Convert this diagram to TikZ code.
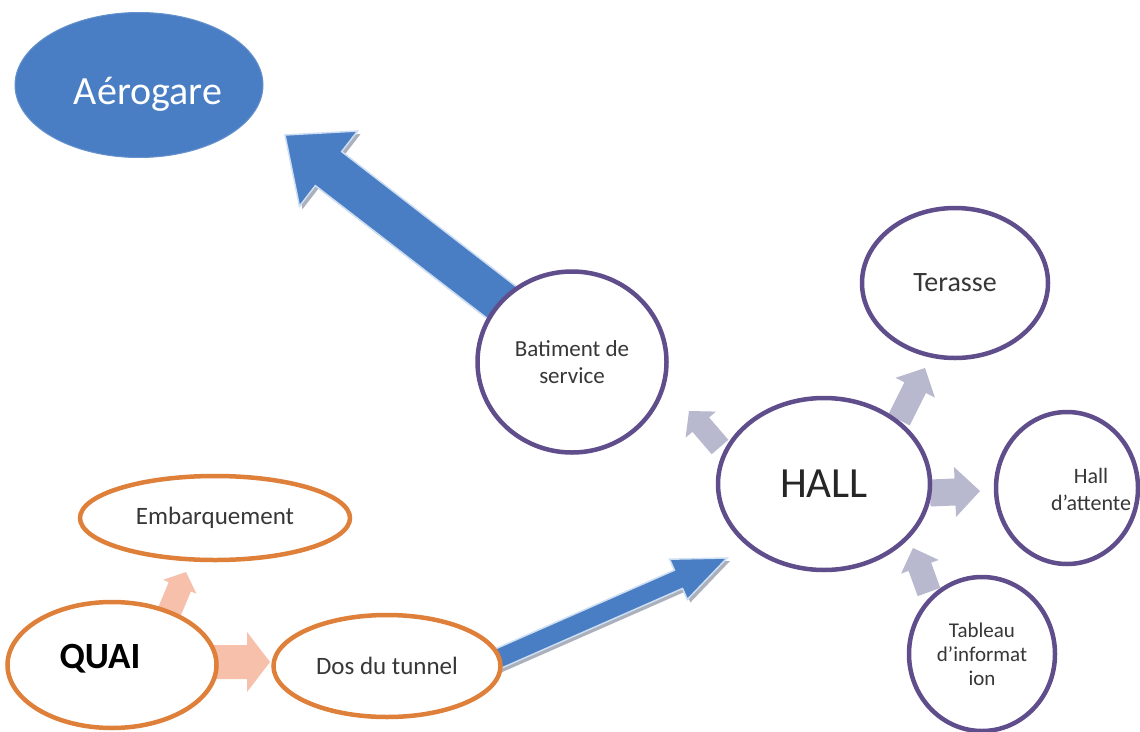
\documentclass[tikz,border=0pt]{standalone}
\usepackage{fontspec}
\setmainfont{Carlito}
\usetikzlibrary{shapes.geometric,calc}
\definecolor{abl}{RGB}{74,126,196}
\definecolor{pur}{RGB}{96,78,140}
\definecolor{org}{RGB}{222,128,58}
\definecolor{gra}{RGB}{184,184,206}
\definecolor{pch}{RGB}{246,192,170}
\definecolor{txt}{RGB}{55,55,55}
\definecolor{shd}{RGB}{170,176,188}
\definecolor{edg}{RGB}{205,222,242}
% block arrow: from, to, shaft half width, head half width, head length, style
\newcommand\blockarr[6]{%
  \coordinate (ba-h) at ($(#2)!#5!(#1)$);
  \fill[#6] ($(#1)!#3!90:(#2)$) -- ($(ba-h)!#3!90:(#2)$) -- ($(ba-h)!#4!90:(#2)$)
    -- (#2) -- ($(ba-h)!#4!-90:(#2)$) -- ($(ba-h)!#3!-90:(#2)$) -- ($(#1)!#3!-90:(#2)$) -- cycle;
}
\tikzset{
  pc/.style={ellipse, draw=pur, line width=4.5pt, fill=white, inner sep=0pt, text=txt, align=center},
  oc/.style={ellipse, draw=org, line width=4.5pt, fill=white, inner sep=0pt, text=txt, align=center},
  blueshadow/.style={fill=shd, transform canvas={shift={(3pt,-3pt)}}},
  bluearrow/.style={fill=abl, draw=edg, line width=1.5pt},
  grayarrow/.style={fill=gra},
  peacharrow/.style={fill=pch},
}
\begin{document}
\begin{tikzpicture}[x=1pt,y=-1pt]
\useasboundingbox (0,0) rectangle (1140,731);
\fill[white] (0,0) rectangle (1140,731);

% arrow end points
\coordinate (b1s) at (505,305);
\coordinate (b1e) at (285,135);
\coordinate (b2s) at (495,660);
\coordinate (b2e) at (727,558);
\coordinate (g1s) at (720,447);
\coordinate (g1e) at (689,411);
\coordinate (g2s) at (899,420);
\coordinate (g2e) at (925,368);
\coordinate (g3s) at (930,493);
\coordinate (g3e) at (980,491);
\coordinate (g4s) at (929,592);
\coordinate (g4e) at (913,548);
\coordinate (p1s) at (210,662);
\coordinate (p1e) at (270,662);
\coordinate (p2s) at (168,615);
\coordinate (p2e) at (186,572);

% big blue arrows
\blockarr{b1s}{b1e}{21.5pt}{47.5pt}{55pt}{blueshadow}
\blockarr{b1s}{b1e}{21.5pt}{47.5pt}{55pt}{bluearrow}
\blockarr{b2s}{b2e}{10pt}{22pt}{53pt}{blueshadow}
\blockarr{b2s}{b2e}{10pt}{22pt}{53pt}{bluearrow}

% small gray arrows
\blockarr{g1s}{g1e}{11pt}{20pt}{18pt}{grayarrow}
\blockarr{g2s}{g2e}{12pt}{22pt}{22pt}{grayarrow}
\blockarr{g3s}{g3e}{13.5pt}{25pt}{25pt}{grayarrow}
\blockarr{g4s}{g4e}{12pt}{20pt}{20pt}{grayarrow}

% peach arrows
\blockarr{p1s}{p1e}{17pt}{30pt}{23pt}{peacharrow}
\blockarr{p2s}{p2e}{12pt}{18pt}{16pt}{peacharrow}

% nodes
\node[ellipse, fill=abl, draw=abl!85!white, line width=1pt, minimum width=248pt, minimum height=145pt, inner sep=0pt] (aero) at (139,85) {};
\node[text=white, font=\fontsize{40}{46}\selectfont, inner sep=0pt] (aerot) at (148,94) {Aérogare};

\node[pc, minimum width=189pt, minimum height=181pt, font=\fontsize{23}{27}\selectfont] (bat) at (572,362) {Batiment de\\service};
\node[pc, minimum width=212pt, minimum height=172pt, font=\fontsize{43}{50}\selectfont, text=black!85] (hall) at (824,484) {HALL};
\node[pc, minimum width=186pt, minimum height=150pt, font=\fontsize{28}{32}\selectfont] (ter) at (955,283) {Terasse};
\node[pc, minimum width=142pt, minimum height=152pt] (hatt) at (1067,488) {};
\node[text=txt, align=center, font=\fontsize{22}{27}\selectfont, inner sep=0pt] (hattt) at (1091,489) {Hall\\d'attente};
\node[pc, minimum width=146pt, minimum height=154pt, font=\fontsize{21}{24}\selectfont] (tab) at (982,654) {Tableau\\d'informat\\ion};

\node[oc, minimum width=270pt, minimum height=84pt, font=\fontsize{25}{30}\selectfont] (emb) at (215,518) {Embarquement};
\node[oc, minimum width=209pt, minimum height=126pt] (quai) at (112,665) {};
\node[text=black, font=\fontsize{37}{42}\bfseries\selectfont, inner sep=0pt] (quait) at (100,659) {QUAI};
\node[oc, minimum width=227pt, minimum height=102pt, font=\fontsize{25}{30}\selectfont] (dos) at (387,666) {Dos du tunnel};
\end{tikzpicture}
\end{document}
